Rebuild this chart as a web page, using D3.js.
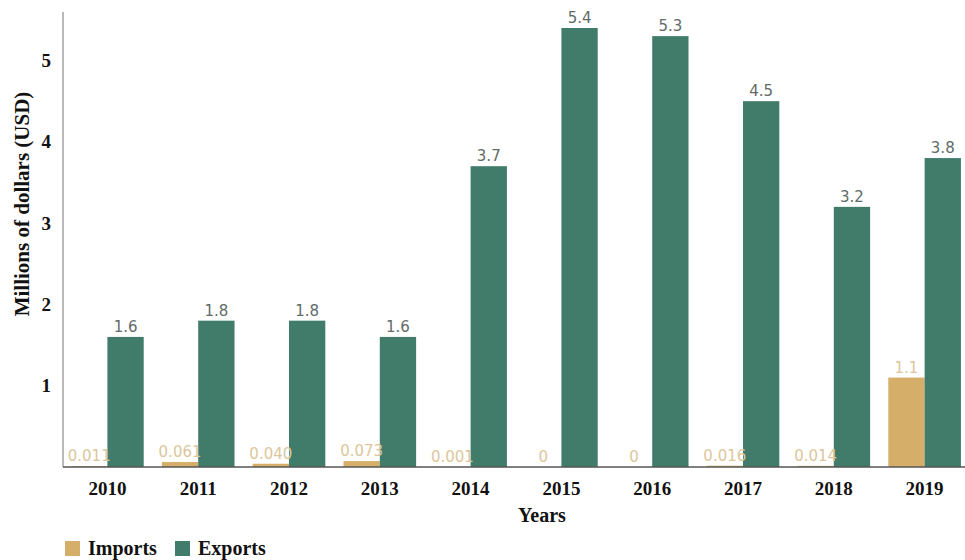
<!DOCTYPE html>
<html>
<head>
<meta charset="utf-8">
<script src="https://cdn.jsdelivr.net/npm/d3@7"></script>
<style>
  html, body { margin: 0; padding: 0; background: #fff; }
  svg { display: block; }
</style>
</head>
<body>
<svg id="chart" width="965" height="560"></svg>
<script>
// Yearly trade values, millions of USD
const years = ["2010", "2011", "2012", "2013", "2014", "2015", "2016", "2017", "2018", "2019"];
const imports = [0.011, 0.061, 0.040, 0.073, 0.001, 0, 0, 0.016, 0.014, 1.1];
const exports = [1.6, 1.8, 1.8, 1.6, 3.7, 5.4, 5.3, 4.5, 3.2, 3.8];
const importLabels = ["0.011", "0.061", "0.040", "0.073", "0.001", "0", "0", "0.016", "0.014", "1.1"];
const exportLabels = ["1.6", "1.8", "1.8", "1.6", "3.7", "5.4", "5.3", "4.5", "3.2", "3.8"];
const yTicks = [1, 2, 3, 4, 5];
const seriesNames = ["Imports", "Exports"];

const colors = { Imports: "#d5ae69", Exports: "#417c6b" };
const labelColors = { Imports: "#ddc69c", Exports: "#5f6b68" };
const serif = "'Liberation Serif', 'Times New Roman', serif";
const sans = "'DejaVu Sans', 'Open Sans', sans-serif";

const svg = d3.select("#chart");
const plot = { left: 63, right: 970, top: 12, bottom: 467 };

const x = d3.scaleBand().domain(years).range([plot.left - 1, plot.right])
  .paddingInner(0.2).paddingOuter(0.1);
const xs = d3.scaleBand().domain(seriesNames).range([0, x.bandwidth()]);
const y = d3.scaleLinear().domain([0, 5.4]).range([plot.bottom, 28]);

const rows = years.map((yr, i) => ({
  year: yr,
  values: [
    { key: "Imports", value: imports[i], label: importLabels[i] },
    { key: "Exports", value: exports[i], label: exportLabels[i] }
  ]
}));

// Bars
const groups = svg.append("g").selectAll("g").data(rows).join("g")
  .attr("transform", d => `translate(${x(d.year)},0)`);

groups.selectAll("rect").data(d => d.values).join("rect")
  .attr("x", d => xs(d.key))
  .attr("y", d => y(d.value))
  .attr("width", xs.bandwidth())
  .attr("height", d => plot.bottom - y(d.value))
  .attr("fill", d => colors[d.key]);

// Value labels above bars
groups.selectAll("text").data(d => d.values).join("text")
  .attr("x", d => xs(d.key) + xs.bandwidth() / 2)
  .attr("y", d => y(d.value) - 5)
  .attr("text-anchor", "middle")
  .attr("font-family", sans)
  .attr("font-size", 15)
  .attr("fill", d => labelColors[d.key])
  .text(d => d.label);

// Y axis
const yAxis = svg.append("g")
  .attr("transform", `translate(${plot.left},0)`)
  .call(d3.axisLeft(y).tickValues(yTicks).tickFormat(d3.format("d")).tickSize(0).tickPadding(12));
yAxis.select(".domain").attr("d", `M0,${plot.top}V${plot.bottom}`).attr("stroke", "#8a8a8a").attr("stroke-width", 1.2);
yAxis.selectAll("text").attr("font-family", serif).attr("font-weight", "bold")
  .attr("font-size", 19).attr("fill", "#111");

// X axis
const xAxis = svg.append("g")
  .attr("transform", `translate(0,${plot.bottom})`)
  .call(d3.axisBottom(x).tickSize(0).tickPadding(15));
xAxis.select(".domain").attr("d", `M${plot.left},0H${plot.right}`).attr("stroke", "#555").attr("stroke-width", 1.3);
xAxis.selectAll("text").attr("font-family", serif).attr("font-weight", "bold")
  .attr("font-size", 19).attr("fill", "#111");

// Axis titles
svg.append("text")
  .attr("transform", "translate(29,204) rotate(-90)")
  .attr("text-anchor", "middle")
  .attr("font-family", serif).attr("font-weight", "bold").attr("font-size", 21).attr("fill", "#111")
  .text("Millions of dollars (USD)");

svg.append("text")
  .attr("x", 542).attr("y", 522)
  .attr("text-anchor", "middle")
  .attr("font-family", serif).attr("font-weight", "bold").attr("font-size", 20).attr("fill", "#111")
  .text("Years");

// Legend
const legend = svg.append("g").attr("transform", "translate(65,541)");
const items = legend.selectAll("g").data(seriesNames).join("g")
  .attr("transform", (d, i) => `translate(${i * 110},0)`);
items.append("rect").attr("width", 15).attr("height", 15).attr("fill", d => colors[d]);
items.append("text")
  .attr("x", 23).attr("y", 14)
  .attr("font-family", serif).attr("font-weight", "bold").attr("font-size", 20).attr("fill", "#111")
  .text(d => d);
</script>
</body>
</html>
